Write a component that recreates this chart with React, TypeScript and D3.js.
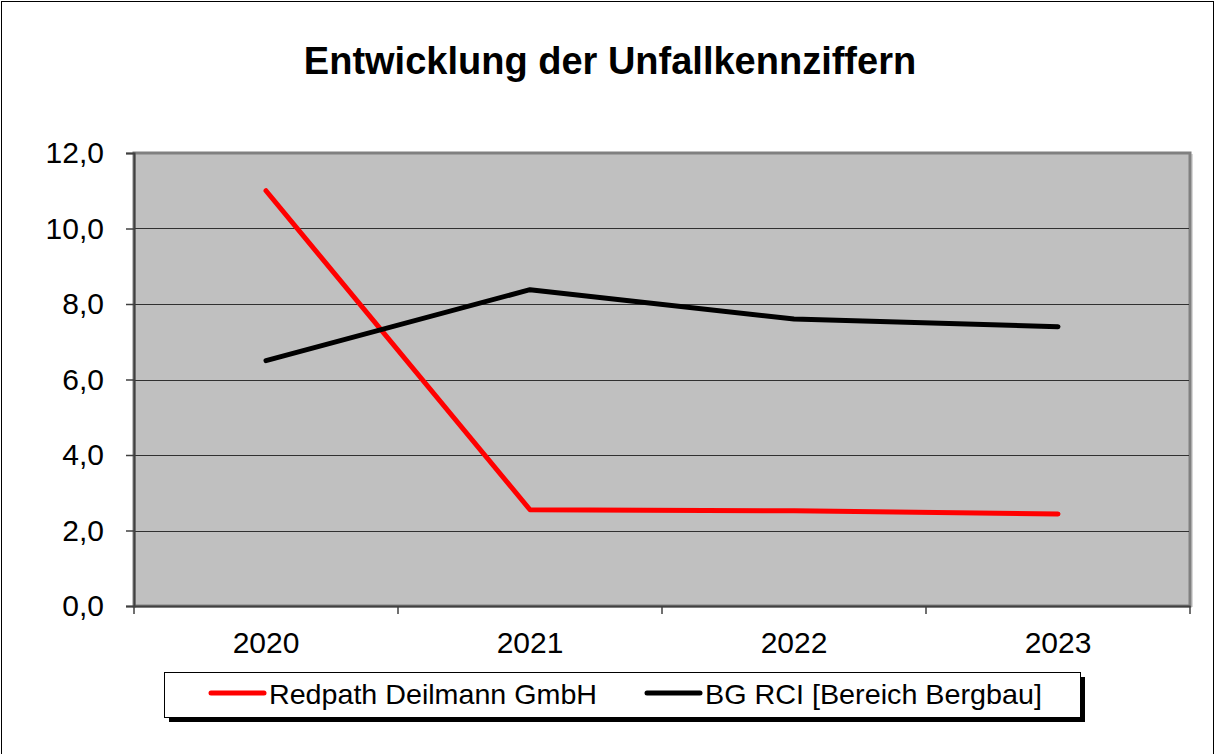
import { useRef, useEffect } from "react";
import * as d3 from "d3";

const years = ["2020", "2021", "2022", "2023"];
const redpathValues = [11.0, 2.55, 2.52, 2.44];
const bgRciValues = [6.5, 8.38, 7.6, 7.4];
const yTicks = [0, 2, 4, 6, 8, 10, 12];
const seriesNames = ["Redpath Deilmann GmbH", "BG RCI [Bereich Bergbau]"];
const seriesColors = ["#ff0000", "#000000"];

export default function App() {
  const svgRef = useRef<SVGSVGElement>(null);

  useEffect(() => {
    document.body.style.margin = "0";
    const svg = d3.select(svgRef.current);
    svg.selectAll("*").remove();

    const width = 1216;
    const height = 754;
    const plot = { left: 134, top: 153, right: 1190, bottom: 606 };
    const font = "'Liberation Sans', Arial, sans-serif";

    svg.attr("width", width).attr("height", height).style("font-family", font);

    // outer chart frame
    svg
      .append("rect")
      .attr("x", 1.5)
      .attr("y", 1.5)
      .attr("width", 1212)
      .attr("height", 770)
      .attr("fill", "#fff")
      .attr("stroke", "#000")
      .attr("stroke-width", 1);

    // title
    svg
      .append("text")
      .attr("x", 610)
      .attr("y", 74)
      .attr("text-anchor", "middle")
      .attr("font-size", "38px")
      .attr("font-weight", "bold")
      .text("Entwicklung der Unfallkennziffern");

    const x = d3.scaleBand().domain(years).range([plot.left, plot.right]);
    const y = d3.scaleLinear().domain([0, 12]).range([plot.bottom, plot.top]);

    // plot area
    svg
      .append("rect")
      .attr("x", plot.left + 3)
      .attr("y", plot.top + 1)
      .attr("width", plot.right - plot.left)
      .attr("height", plot.bottom - plot.top)
      .attr("fill", "#d8d8d8");
    svg
      .append("rect")
      .attr("x", plot.left)
      .attr("y", plot.top)
      .attr("width", plot.right - plot.left)
      .attr("height", plot.bottom - plot.top)
      .attr("fill", "#c0c0c0")
      .attr("stroke", "#808080")
      .attr("stroke-width", 3);

    // gridlines
    svg
      .append("g")
      .selectAll("line")
      .data(yTicks.filter((t) => t > 0 && t < 12))
      .join("line")
      .attr("x1", plot.left + 1)
      .attr("x2", plot.right - 1)
      .attr("y1", (d) => Math.round(y(d)) + 0.5)
      .attr("y2", (d) => Math.round(y(d)) + 0.5)
      .attr("stroke", "#303030")
      .attr("stroke-width", 1.2);

    // y axis
    const yAxis = svg
      .append("g")
      .attr("transform", `translate(${plot.left},0)`)
      .call(
        d3
          .axisLeft(y)
          .tickValues(yTicks)
          .tickSize(8)
          .tickPadding(22)
          .tickFormat((d) => d3.format(".1f")(d as number).replace(".", ","))
      );
    yAxis.select(".domain").attr("stroke", "#404040").attr("stroke-width", 2);
    yAxis.selectAll(".tick line").attr("stroke", "#404040").attr("stroke-width", 1.5);
    yAxis
      .selectAll(".tick text")
      .attr("font-size", "30px")
      .attr("font-family", font)
      .attr("fill", "#000");

    // x axis
    const xAxis = svg
      .append("g")
      .attr("transform", `translate(0,${plot.bottom})`)
      .call(d3.axisBottom(x).tickSize(0).tickPadding(26));
    xAxis.select(".domain").attr("stroke", "#404040").attr("stroke-width", 2);
    xAxis
      .selectAll(".tick text")
      .attr("font-size", "30px")
      .attr("font-family", font)
      .attr("fill", "#000");
    svg
      .append("g")
      .selectAll("line")
      .data([...years.map((d) => x(d) as number), plot.right])
      .join("line")
      .attr("x1", (d) => d)
      .attr("x2", (d) => d)
      .attr("y1", plot.bottom)
      .attr("y2", plot.bottom + 8)
      .attr("stroke", "#404040")
      .attr("stroke-width", 1.5);

    // lines
    const line = d3
      .line<number>()
      .x((_, i) => (x(years[i]) as number) + x.bandwidth() / 2)
      .y((d) => y(d));
    [redpathValues, bgRciValues].forEach((vals, i) => {
      svg
        .append("path")
        .datum(vals)
        .attr("d", line)
        .attr("fill", "none")
        .attr("stroke", seriesColors[i])
        .attr("stroke-width", 5)
        .attr("stroke-linejoin", "round")
        .attr("stroke-linecap", "round");
    });

    // legend
    const lg = { x: 164, y: 672, w: 916, h: 45 };
    svg
      .append("rect")
      .attr("x", lg.x + 5)
      .attr("y", lg.y + 5)
      .attr("width", lg.w)
      .attr("height", lg.h)
      .attr("fill", "#000");
    svg
      .append("rect")
      .attr("x", lg.x + 0.5)
      .attr("y", lg.y + 0.5)
      .attr("width", lg.w)
      .attr("height", lg.h)
      .attr("fill", "#fff")
      .attr("stroke", "#000")
      .attr("stroke-width", 1);
    const legendX = [211, 647];
    seriesNames.forEach((name, i) => {
      const g = svg.append("g");
      g.append("line")
        .attr("x1", legendX[i])
        .attr("x2", legendX[i] + 53)
        .attr("y1", lg.y + 21)
        .attr("y2", lg.y + 21)
        .attr("stroke", seriesColors[i])
        .attr("stroke-width", 5)
        .attr("stroke-linecap", "round");
      g.append("text")
        .attr("x", legendX[i] + 58)
        .attr("y", lg.y + 32)
        .attr("font-size", "28px")
        .attr("textLength", i === 0 ? 328 : 337)
        .attr("lengthAdjust", "spacingAndGlyphs")
        .text(name);
    });
  }, []);

  return <svg ref={svgRef} style={{ display: "block" }} />;
}
